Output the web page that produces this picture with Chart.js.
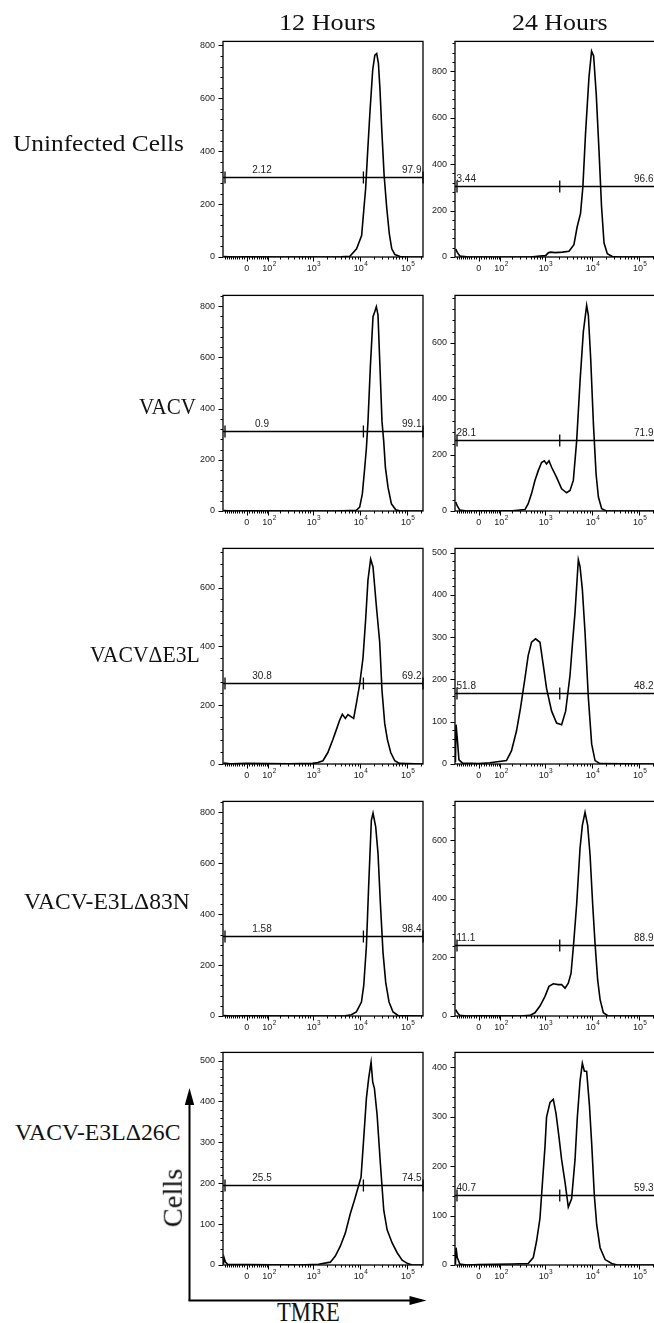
<!DOCTYPE html>
<html>
<head>
<meta charset="utf-8">
<script src="https://cdn.jsdelivr.net/npm/chart.js@4.4.1/dist/chart.umd.min.js"></script>
<style>
  html, body { margin: 0; padding: 0; background: #fff; }
  body { width: 654px; height: 1323px; position: relative; overflow: hidden; }
  canvas { position: absolute; }
  .lbl { position: absolute; font-family: "Liberation Serif", serif; color: #111; white-space: nowrap; transform-origin: 0 50%; }
  svg { position: absolute; left: 0; top: 0; }
</style>
</head>
<body>
<svg width="654" height="1323">
  <line x1="189.5" y1="1300.5" x2="189.5" y2="1100" stroke="#000" stroke-width="2"/>
  <polygon points="189.5,1088 184.8,1105 194.2,1105" fill="#000"/>
  <line x1="188.5" y1="1300.5" x2="412" y2="1300.5" stroke="#000" stroke-width="2"/>
  <polygon points="426.5,1300.5 409.5,1296 409.5,1305" fill="#000"/>
</svg>
<script>
// ---- labels ----
const timePoints = ['12 Hours', '24 Hours'];
const rowNames = ['Uninfected Cells', 'VACV', 'VACVΔE3L', 'VACV-E3LΔ83N', 'VACV-E3LΔ26C'];

// ---- TMRE axis (biexponential) ----
const xMin = -115;
const xMax = 221000;
const xMajorTicks = [0, 100, 1000, 10000, 100000];
const xMinorTicks = [-100, -90, -80, -70, -60, -50, -40, -30, -20, -10,
  10, 20, 30, 40, 50, 60, 70, 80, 90,
  200, 300, 400, 500, 600, 700, 800, 900,
  2000, 3000, 4000, 5000, 6000, 7000, 8000, 9000,
  20000, 30000, 40000, 50000, 60000, 70000, 80000, 90000, 200000];

// ---- cell count axes: [12 h, 24 h] per row ----
const yMax = [[815, 928], [842, 769], [733, 510], [843, 732], [520, 430]];
const yStep = [[200, 200], [200, 200], [200, 100], [200, 200], [100, 100]];

// ---- gates ----
const gateSplit = [12000, 2100];
const gateLevel = [[304, 306], [314, 253], [275, 169], [314, 243], [195, 142]];
const gateLow = [['2.12', '3.44'], ['0.9', '28.1'], ['30.8', '51.8'], ['1.58', '11.1'], ['25.5', '40.7']];
const gateHigh = [['97.9', '96.6'], ['99.1', '71.9'], ['69.2', '48.2'], ['98.4', '88.9'], ['74.5', '59.3']];

// ---- histograms [TMRE, cells] ----
const uninfected12 = [[-110, 2], [-80, 1], [-40, 0], [0, 1], [200, 0], [1000, 0], [4000, 1], [6200, 3],
  [8600, 31], [11000, 81], [12000, 160], [13400, 260], [14500, 372], [16500, 546], [18900, 707],
  [21000, 763], [23000, 769], [25000, 732], [27000, 633], [29400, 484], [33000, 310], [37500, 186],
  [42600, 87], [48000, 31], [56000, 9], [72000, 2], [100000, 0], [221000, 0]];
const uninfected24 = [[-110, 34], [-100, 20], [-85, 4], [-50, 1], [0, 0], [500, 0], [800, 4], [1050, 6],
  [1200, 18], [1335, 21], [1700, 19], [2400, 21], [3300, 25], [4200, 53], [4900, 128], [5800, 188],
  [6500, 302], [7400, 530], [8750, 772], [9950, 886], [11000, 865], [12500, 701], [14300, 459],
  [16200, 216], [18300, 60], [21500, 14], [27400, 2], [40000, 0], [221000, 0]];
const vacv12 = [[-110, 2], [-60, 0], [0, 1], [500, 0], [3000, 0], [8500, 3], [10000, 15], [11400, 67],
  [12800, 169], [13900, 246], [15000, 349], [16900, 567], [19200, 759], [20900, 778], [22600, 798],
  [24500, 765], [26600, 592], [29800, 349], [32400, 272], [35200, 169], [40000, 92], [47200, 28],
  [58300, 5], [70000, 1], [221000, 0]];
const vacv24 = [[-110, 32], [-100, 18], [-85, 3], [-50, 0], [0, 1], [200, 1], [380, 5], [446, 26],
  [526, 62], [622, 109], [733, 144], [862, 173], [984, 179], [1100, 168], [1240, 179], [1410, 156],
  [1800, 120], [2300, 79], [2940, 65], [3470, 73], [4080, 109], [4800, 250], [5660, 462], [6650, 639],
  [7820, 733], [8500, 698], [9520, 545], [10900, 309], [12400, 132], [13900, 50], [16300, 8],
  [20000, 1], [221000, 0]];
const dE3L12 = [[-110, 3], [-70, 1], [0, 2], [300, 1], [1000, 2], [1300, 5], [1660, 11], [2110, 39],
  [2700, 83], [3190, 116], [3750, 149], [4280, 169], [4960, 155], [5640, 168], [6650, 160], [7450, 155],
  [8500, 205], [10000, 271], [11750, 360], [13400, 492], [15000, 625], [17100, 697], [19200, 670],
  [22600, 537], [26600, 415], [29800, 249], [34000, 138], [38800, 83], [45600, 39], [55600, 11],
  [70000, 2], [221000, 0]];
const dE3L24 = [[-112, 5], [-108, 93], [-100, 60], [-90, 10], [-70, 2], [0, 1], [46, 3], [145, 8],
  [190, 31], [247, 78], [303, 132], [378, 202], [446, 257], [526, 288], [640, 296], [796, 288],
  [937, 234], [1100, 179], [1410, 125], [1800, 97], [2300, 93], [2800, 125], [3470, 210], [3880, 280],
  [4430, 358], [5210, 483], [5660, 467], [6340, 413], [7230, 311], [8510, 156], [10000, 47],
  [11800, 8], [15000, 1], [221000, 0]];
const d83N12 = [[-110, 2], [-70, 0], [0, 1], [1000, 0], [5000, 1], [6650, 5], [8500, 16], [10900, 55],
  [12200, 120], [13900, 275], [15500, 509], [17700, 769], [19200, 797], [21900, 743], [24500, 639],
  [27500, 444], [31300, 249], [35700, 132], [42000, 55], [51100, 16], [65300, 2], [221000, 0]];
const d83N24 = [[-110, 22], [-100, 12], [-85, 2], [-50, 0], [0, 1], [300, 0], [486, 2], [622, 11],
  [796, 34], [1020, 67], [1240, 101], [1530, 110], [1950, 107], [2300, 107], [2720, 95], [3190, 112],
  [3650, 146], [4140, 247], [4800, 381], [5660, 572], [6340, 650], [7230, 695], [8220, 650],
  [9240, 549], [10500, 381], [11800, 247], [13400, 123], [15100, 56], [17700, 11], [22000, 1],
  [221000, 0]];
const d26C12 = [[-112, 2], [-108, 18], [-100, 8], [-85, 1], [0, 1], [500, 0], [1340, 2], [2380, 7],
  [3040, 22], [3880, 46], [4960, 78], [6340, 126], [7710, 158], [9060, 186], [10700, 215], [12200, 311],
  [13900, 408], [15500, 456], [17460, 496], [18900, 448], [20550, 432], [23460, 367], [27550, 247],
  [32440, 134], [38280, 86], [48900, 54], [62500, 30], [79800, 12], [102000, 4], [130000, 0],
  [221000, 0]];
const d26C24 = [[-112, 2], [-108, 35], [-100, 15], [-85, 2], [-50, 0], [0, 1], [190, 2], [446, 3],
  [572, 15], [673, 48], [796, 94], [900, 167], [1020, 240], [1100, 299], [1305, 329], [1530, 335],
  [1750, 306], [2020, 259], [2300, 213], [2720, 167], [3190, 117], [3750, 134], [4430, 213],
  [4960, 299], [5660, 372], [6340, 408], [7000, 392], [7820, 392], [8930, 325], [10000, 246],
  [11400, 140], [12800, 81], [15100, 35], [19300, 11], [26600, 3], [35000, 0], [221000, 0]];

const histograms = [[uninfected12, uninfected24], [vacv12, vacv24], [dE3L12, dE3L24],
  [d83N12, d83N24], [d26C12, d26C24]];

// ---- panel frame geometry ----
const colLeft = [223, 455];
const boxWidth = 200;
const rowTop = [38, 292, 545, 798, 1049];
const rowBottom = [257, 511, 764, 1016, 1265];
const padL = 40, padT = 6, padR = 6, padB = 26;

const LN10 = Math.log(10);
const biex = v => Math.asinh(v / 80) / LN10;
const biexInv = t => 80 * Math.sinh(t * LN10);

// linear near zero, logarithmic further out
class BiexScale extends Chart.LinearScale {
  determineDataLimits() {
    this.min = this.options.min;
    this.max = this.options.max;
  }
  buildTicks() {
    return xMajorTicks.concat(xMinorTicks).sort((a, b) => a - b).map(value => ({ value }));
  }
  configure() {
    super.configure();
    this._tMin = biex(this.min);
    this._tSpan = biex(this.max) - this._tMin;
  }
  getPixelForValue(value) {
    return this.getPixelForDecimal((biex(value) - this._tMin) / this._tSpan);
  }
  getValueForPixel(pixel) {
    return biexInv(this._tMin + this.getDecimalForPixel(pixel) * this._tSpan);
  }
}
BiexScale.id = 'biex';
BiexScale.defaults = {};
Chart.register(BiexScale);

const tickFont = '"Liberation Sans", Arial, sans-serif';

const frame = {
  id: 'frame',
  afterDraw(chart, args, opts) {
    const { ctx, chartArea: a, scales: { x, y } } = chart;
    ctx.save();
    ctx.strokeStyle = '#000';
    ctx.lineWidth = 1.3;
    ctx.strokeRect(a.left, a.top, a.right - a.left, a.bottom - a.top);

    // tick marks
    ctx.lineWidth = 1;
    ctx.beginPath();
    x.ticks.forEach(t => {
      const px = Math.round(x.getPixelForValue(t.value)) + 0.5;
      const len = xMajorTicks.includes(t.value) ? 4.5 : 2.5;
      ctx.moveTo(px, a.bottom);
      ctx.lineTo(px, a.bottom + len);
    });
    y.ticks.forEach(t => {
      const py = Math.round(y.getPixelForValue(t.value)) + 0.5;
      const len = t.value % opts.step === 0 ? 4.5 : 2.5;
      ctx.moveTo(a.left, py);
      ctx.lineTo(a.left - len, py);
    });
    ctx.stroke();

    // decade labels with superscript exponents
    ctx.fillStyle = '#222';
    ctx.textBaseline = 'alphabetic';
    xMajorTicks.forEach(v => {
      const px = x.getPixelForValue(v);
      const base = a.bottom + 14;
      if (v === 0) {
        ctx.font = '9px ' + tickFont;
        ctx.textAlign = 'center';
        ctx.fillText('0', px, base);
        return;
      }
      const exp = String(Math.round(Math.log10(v)));
      ctx.font = '9px ' + tickFont;
      const w1 = ctx.measureText('10').width;
      ctx.font = '6.5px ' + tickFont;
      const w2 = ctx.measureText(exp).width;
      const start = px - (w1 + w2) / 2 + 1;
      ctx.textAlign = 'left';
      ctx.font = '9px ' + tickFont;
      ctx.fillText('10', start, base);
      ctx.font = '6.5px ' + tickFont;
      ctx.fillText(exp, start + w1 + 0.3, base - 5);
    });

    // gate bar
    const gy = Math.round(y.getPixelForValue(opts.level)) + 0.5;
    ctx.strokeStyle = '#000';
    ctx.lineWidth = 1.3;
    ctx.beginPath();
    ctx.moveTo(a.left, gy);
    ctx.lineTo(a.right, gy);
    [a.left + 2, x.getPixelForValue(opts.split), a.right].forEach(px => {
      ctx.moveTo(px, gy - 6);
      ctx.lineTo(px, gy + 6);
    });
    ctx.stroke();

    ctx.fillStyle = '#222';
    ctx.font = '10px ' + tickFont;
    ctx.textBaseline = 'alphabetic';
    if (opts.col === 0) {
      ctx.textAlign = 'center';
      ctx.fillText(opts.low, a.left + 39, gy - 5);
    } else {
      ctx.textAlign = 'left';
      ctx.fillText(opts.low, a.left + 1.5, gy - 5);
    }
    ctx.textAlign = 'right';
    ctx.fillText(opts.high, a.right - 1.5, gy - 5);
    ctx.restore();
  }
};

function makePanel(row, col) {
  const top = rowTop[row], bottom = rowBottom[row];
  const canvas = document.createElement('canvas');
  canvas.width = padL + boxWidth + padR;
  canvas.height = padT + (bottom - top) + padB;
  canvas.style.left = (colLeft[col] - padL) + 'px';
  canvas.style.top = (top - padT) + 'px';
  document.body.appendChild(canvas);

  const step = yStep[row][col];
  new Chart(canvas, {
    type: 'line',
    data: {
      datasets: [{
        data: histograms[row][col].map(([x, y]) => ({ x, y })),
        borderColor: '#000',
        borderWidth: 1.6,
        pointRadius: 0,
        tension: 0,
        fill: false
      }]
    },
    options: {
      responsive: false,
      animation: false,
      events: [],
      layout: { padding: { top: padT, right: padR, left: 0, bottom: 0 } },
      plugins: {
        legend: { display: false },
        tooltip: { enabled: false },
        frame: {
          step: step,
          col: col,
          level: gateLevel[row][col],
          split: gateSplit[col],
          low: gateLow[row][col],
          high: gateHigh[row][col]
        }
      },
      scales: {
        x: {
          type: 'biex',
          min: xMin,
          max: xMax,
          afterFit: s => { s.height = padB; },
          border: { display: false },
          grid: { drawOnChartArea: false, tickLength: 4, tickColor: 'rgba(0,0,0,0)' },
          ticks: { callback: () => '', autoSkip: false, maxRotation: 0 }
        },
        y: {
          type: 'linear',
          min: 0,
          max: yMax[row][col],
          afterFit: s => { s.width = padL; },
          border: { display: false },
          grid: { drawOnChartArea: false, tickLength: 4, tickColor: 'rgba(0,0,0,0)' },
          ticks: {
            stepSize: step / 5,
            includeBounds: false,
            autoSkip: false,
            padding: 4,
            color: '#222',
            font: { family: tickFont, size: 9 },
            callback: v => (v % step === 0 ? String(v) : '')
          }
        }
      }
    },
    plugins: [frame]
  });
}

for (let r = 0; r < rowNames.length; r++) {
  for (let c = 0; c < timePoints.length; c++) makePanel(r, c);
}

// serif captions, squeezed to their measured widths
function placeText(text, x0, x1, yc, size, rotate) {
  const el = document.createElement('div');
  el.className = 'lbl';
  el.textContent = text;
  el.style.fontSize = size + 'px';
  el.style.lineHeight = size + 'px';
  document.body.appendChild(el);
  const w = el.offsetWidth;
  const k = (x1 - x0) / w;
  if (rotate) {
    const cx = yc[0], cy = yc[1];
    el.style.transformOrigin = '50% 50%';
    el.style.left = (cx - w / 2) + 'px';
    el.style.top = (cy - size / 2) + 'px';
    el.style.transform = `rotate(-90deg) scaleX(${k})`;
  } else {
    el.style.left = x0 + 'px';
    el.style.top = (yc - size / 2) + 'px';
    el.style.transform = `scaleX(${k})`;
  }
}

placeText(timePoints[0], 279, 376, 22, 24);
placeText(timePoints[1], 512, 608, 22, 24);
placeText(rowNames[0], 13, 184, 143, 24);
placeText(rowNames[1], 139, 196, 406, 24);
placeText(rowNames[2], 90, 200, 654, 24);
placeText(rowNames[3], 24, 190, 901, 24);
placeText(rowNames[4], 15, 180, 1132, 24);
placeText('Cells', 0, 59, [173, 1198], 28, true);
placeText('TMRE', 277, 340, 1312, 28);
</script>
</body>
</html>
